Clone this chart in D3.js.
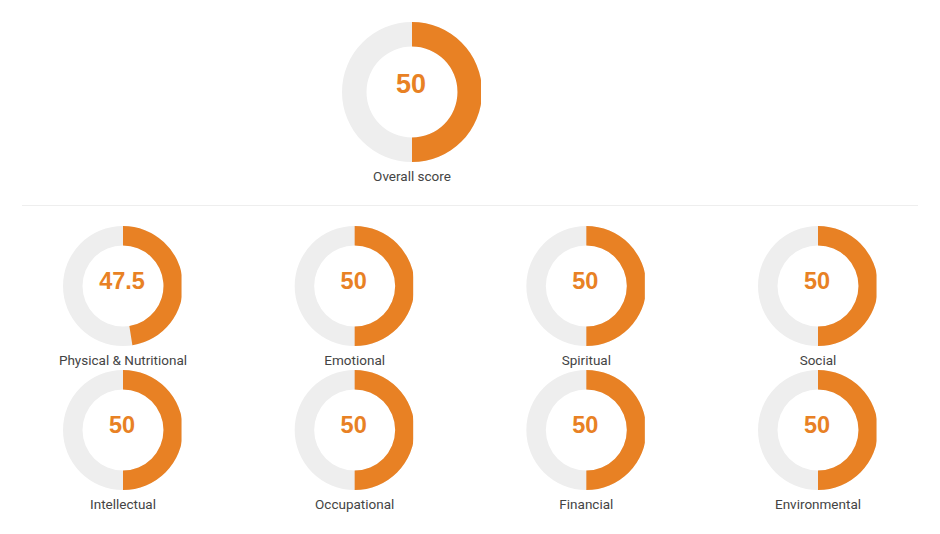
<!DOCTYPE html>
<html>
<head>
<meta charset="utf-8">
<script src="https://cdn.jsdelivr.net/npm/d3@7"></script>
<style>
  html, body { margin: 0; padding: 0; background: #fff; }
  svg { display: block; }
</style>
</head>
<body>
<svg id="chart" width="940" height="534"></svg>
<script>
const overallLabel = "Overall score";
const overallScore = 50;
const categories = ["Physical & Nutritional", "Emotional", "Spiritual", "Social",
                    "Intellectual", "Occupational", "Financial", "Environmental"];
const scores = [47.5, 50, 50, 50, 50, 50, 50, 50];
const maxScore = 100;

const ORANGE = "#e88124", GREY = "#eeeeee";
const svg = d3.select("#chart");
const angle = d3.scaleLinear().domain([0, maxScore]).range([0, 2 * Math.PI]);

function donut(cx, cy, r, ri, value, label, valueSize, valueY, clipOff, id) {
  const defs = svg.append("defs");
  defs.append("clipPath").attr("id", "clip" + id)
    .append("rect").attr("x", -r - 2).attr("y", -r - 2)
    .attr("width", r + 2 + clipOff).attr("height", 2 * r + 4);
  const g = svg.append("g").attr("transform", `translate(${cx},${cy})`);
  const ring = g.append("g").attr("clip-path", `url(#clip${id})`);
  const arc = d3.arc().innerRadius(ri).outerRadius(r);
  ring.append("path").attr("d", arc({startAngle: 0, endAngle: 2 * Math.PI})).attr("fill", GREY);
  ring.append("path").attr("d", arc({startAngle: 0, endAngle: angle(value)})).attr("fill", ORANGE);
  g.append("text").text(value)
    .attr("text-anchor", "middle").attr("x", -1).attr("y", valueY)
    .attr("font-family", "'Liberation Sans', Arial, sans-serif")
    .attr("font-weight", "bold").attr("font-size", valueSize)
    .attr("fill", ORANGE);
  g.append("text").text(label)
    .attr("text-anchor", "middle").attr("y", r + 18.5)
    .attr("font-family", "Roboto, sans-serif").attr("font-size", 13.5)
    .attr("fill", "#444");
}

donut(412, 92, 70, 45.5, overallScore, overallLabel, 27, 1, 69, "o");

svg.append("line").attr("x1", 22).attr("x2", 918).attr("y1", 205.5).attr("y2", 205.5)
  .attr("stroke", "#eeeeee").attr("stroke-width", 1);

const xs = d3.scalePoint().domain(d3.range(4)).range([123, 818]);
const ys = d3.scalePoint().domain(d3.range(2)).range([286, 430]);
categories.forEach((c, i) => {
  donut(xs(i % 4), ys(Math.floor(i / 4)), 60, 40.5, scores[i], c, 23.5, 3, 58.5, "c" + i);
});
</script>
</body>
</html>
